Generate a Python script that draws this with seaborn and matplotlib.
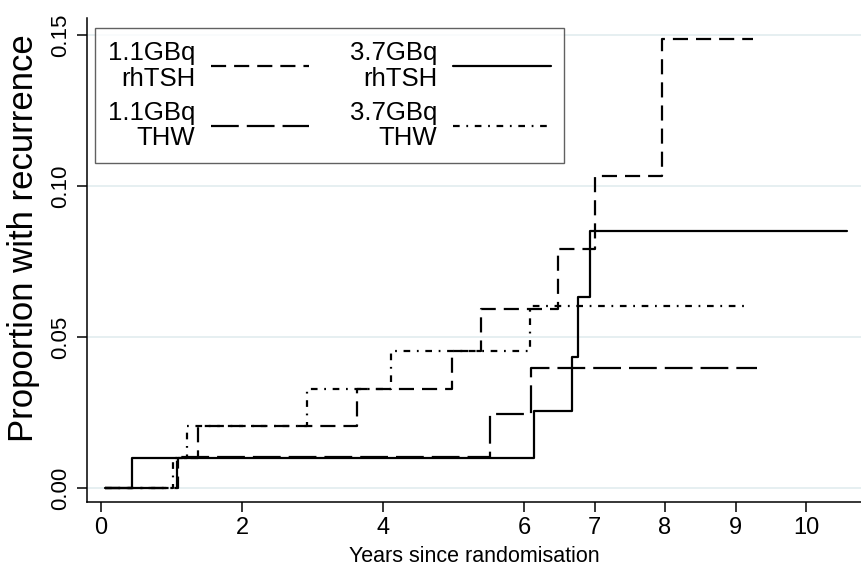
import numpy as np
import pandas as pd
import matplotlib
matplotlib.use("Agg")
import matplotlib.pyplot as plt
from matplotlib import font_manager as fm
import seaborn as sns

# ---- data ----
rh11_t = [0.05, 1.09, 1.38, 3.63, 4.98, 5.39, 6.48, 7.01, 7.96, 9.25]
rh11_y = [0.0, 0.0100, 0.0205, 0.0328, 0.0454, 0.0593, 0.0790, 0.1033, 0.1487, 0.1487]

thw11_t = [0.05, 1.08, 5.52, 6.10, 9.31]
thw11_y = [0.0, 0.0103, 0.0245, 0.0397, 0.0397]

rh37_t = [0.05, 0.44, 6.14, 6.68, 6.76, 6.94, 10.58]
rh37_y = [0.0, 0.0099, 0.0255, 0.0434, 0.0632, 0.0851, 0.0851]

thw37_t = [0.05, 1.02, 1.22, 2.92, 4.11, 6.09, 9.16]
thw37_y = [0.0, 0.0100, 0.0205, 0.0328, 0.0454, 0.0603, 0.0603]

labels = ["1.1GBq\nrhTSH", "1.1GBq\nTHW", "3.7GBq\nrhTSH", "3.7GBq\nTHW"]
xticks = [0, 2, 4, 6, 7, 8, 9, 10]
yticks = [0.00, 0.05, 0.10, 0.15]
ytick_labels = ["0.00", "0.05", "0.10", "0.15"]

sns.set_style("ticks")
plt.rcParams["font.family"] = ["Liberation Sans", "DejaVu Sans"]
for k in ["text.color", "axes.labelcolor", "xtick.color", "ytick.color", "axes.edgecolor"]:
    plt.rcParams[k] = "black"


def has_font(name):
    try:
        fm.findfont(fm.FontProperties(family=name), fallback_to_default=False)
        return True
    except Exception:
        return False


NARROW = has_font("Liberation Sans Narrow")
tick_family = ["Liberation Sans Narrow", "Liberation Sans"] if NARROW else ["Liberation Sans"]
xt_size = 18 if NARROW else 17
yt_size = 17 if NARROW else 16

fig = plt.figure(figsize=(8.61, 5.69), dpi=100)
L, B, T = 87, 502, 18
ax = fig.add_axes([L / 861, 1 - B / 569, (861 - L) / 861, (B - T) / 569])

lw = 1.6
styles = [
    (0, (6.8, 3.6)),             # 1.1 rhTSH short dash
    (0, (12.5, 3.6)),            # 1.1 THW long dash
    "-",                         # 3.7 rhTSH solid
    (0, (3.0, 3.0, 0.8, 3.0)),   # 3.7 THW dash-dot
]
series = [(rh11_t, rh11_y), (thw11_t, thw11_y), (rh37_t, rh37_y), (thw37_t, thw37_y)]

handles = []
for (t, y), lab, ls in zip(series, labels, styles):
    df = pd.DataFrame({"t": t, "y": y})
    sns.lineplot(data=df, x="t", y="y", ax=ax, drawstyle="steps-post",
                 color="black", linewidth=lw, linestyle=ls, estimator=None,
                 sort=False, label=lab, legend=False)
    handles.append(ax.lines[-1])

# grid lines
for yv in yticks:
    ax.axhline(yv, color="#e6eff1", linewidth=1.4, zorder=0)

x0px, pxyr = 101, 70.5
ax.set_xlim((L - x0px) / pxyr, (861 - x0px) / pxyr)
ax.set_ylim(-0.0046, 0.1556)
ax.set_xticks(xticks)
ax.set_xticklabels([str(v) for v in xticks], fontsize=xt_size)
ax.set_yticks(yticks)
ax.set_yticklabels(ytick_labels, fontsize=yt_size, rotation=90, va="center")
for lab in ax.get_xticklabels() + ax.get_yticklabels():
    lab.set_fontfamily(tick_family)
ax.tick_params(axis="both", direction="out", length=7.5, width=1.1, color="black")
ax.tick_params(axis="x", pad=3)
ax.tick_params(axis="y", pad=4)
for s in ["top", "right"]:
    ax.spines[s].set_visible(False)
for s in ["left", "bottom"]:
    ax.spines[s].set_linewidth(1.1)
    ax.spines[s].set_color("black")

ax.set_xlabel("Years since randomisation", fontsize=15.5)
ax.xaxis.set_label_coords((474 - L) / (861 - L), (B - 546) / (B - T))
ax.set_ylabel("Proportion with recurrence", fontsize=25)
ax.yaxis.set_label_coords((40 - L) / (861 - L), (B - 238) / (B - T))

leg = ax.legend(handles=handles, labels=labels, ncol=2, loc="upper left",
                bbox_to_anchor=((95 - L) / (861 - L), (B - 28) / (B - T)),
                markerfirst=False, fontsize=18.5, frameon=True, fancybox=False,
                handlelength=3.8, handletextpad=0.62, columnspacing=1.6,
                borderpad=0.5, labelspacing=0.38, borderaxespad=0)
leg.get_frame().set_edgecolor("#3a3a3a")
leg.get_frame().set_linewidth(1.0)
for txt in leg.get_texts():
    txt.set_multialignment("right")
    txt.set_linespacing(1.1)

fig.savefig("out.png", dpi=100)
